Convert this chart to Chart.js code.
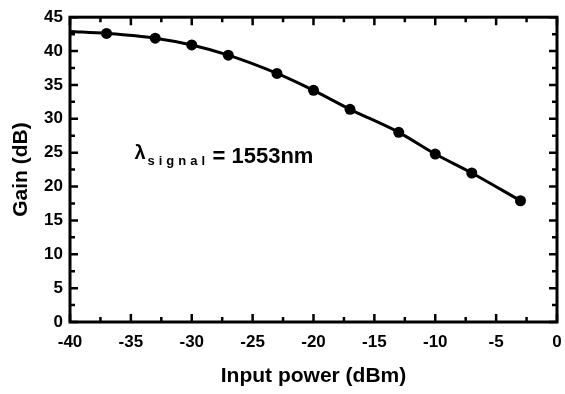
<!DOCTYPE html>
<html>
<head>
<meta charset="utf-8">
<script src="https://cdn.jsdelivr.net/npm/chart.js@4"></script>
<style>
  html, body { margin: 0; padding: 0; background: #fff; }
  #wrap { width: 565px; height: 394px; }
</style>
</head>
<body>
<div id="wrap"><canvas id="myChart" width="565" height="394"></canvas></div>
<script>
// input power (dBm) and measured gain (dB)
const inputPower = [-40, -37, -33, -30, -27, -23, -20, -17, -13, -10, -7, -3]
const gain = [42.9, 42.6, 41.9, 40.9, 39.4, 36.7, 34.2, 31.4, 28.0, 24.8, 22.0, 17.9]
// first point is only the start of the fitted curve, no marker
const markerSize = [0, 5.5, 5.5, 5.5, 5.5, 5.5, 5.5, 5.5, 5.5, 5.5, 5.5, 5.5]
const xTicks = [-40, -35, -30, -25, -20, -15, -10, -5, 0]
const yTicks = [0, 5, 10, 15, 20, 25, 30, 35, 40, 45]

const FONT = 'Liberation Sans, Arial, sans-serif'
const tickFont = { family: FONT, size: 17, weight: 'bold' }

// frame + inward tick marks on all four sides, plus the lambda note
const frameTicks = {
  id: 'frameTicks',
  afterDraw(chart) {
    const { ctx, chartArea: a, scales: { x, y } } = chart
    ctx.save()
    ctx.strokeStyle = '#000'
    ctx.lineWidth = 3
    ctx.strokeRect(a.left, a.top, a.right - a.left, a.bottom - a.top)

    ctx.lineWidth = 2.5
    for (let v = -40; v <= 0; v += 2.5) {
      const px = x.getPixelForValue(v)
      const len = v % 5 === 0 ? 8 : 5
      ctx.beginPath()
      ctx.moveTo(px, a.bottom); ctx.lineTo(px, a.bottom - len)
      ctx.moveTo(px, a.top); ctx.lineTo(px, a.top + len)
      ctx.stroke()
    }
    for (let v = 0; v <= 45; v += 2.5) {
      const py = y.getPixelForValue(v)
      const len = v % 5 === 0 ? 8 : 5
      ctx.beginPath()
      ctx.moveTo(a.left, py); ctx.lineTo(a.left + len, py)
      ctx.moveTo(a.right, py); ctx.lineTo(a.right - len, py)
      ctx.stroke()
    }

    // λ_signal = 1553nm
    const lx = x.getPixelForValue(-34.7)
    const ly = y.getPixelForValue(23.5)
    ctx.fillStyle = '#000'
    ctx.textBaseline = 'alphabetic'
    ctx.font = 'bold 20px ' + FONT
    ctx.fillText('λ', lx, ly - 4)
    ctx.font = 'bold 13px ' + FONT
    ctx.letterSpacing = '4px'
    ctx.fillText('signal', lx + 13, ly + 2)
    ctx.letterSpacing = '0px'
    ctx.font = 'bold 22px ' + FONT
    ctx.fillText('= 1553nm', lx + 78, ly)
    ctx.restore()
  }
}

new Chart(document.getElementById('myChart').getContext('2d'), {
  type: 'line',
  data: {
    labels: inputPower,
    datasets: [{
      data: inputPower.map((p, i) => ({ x: p, y: gain[i] })),
      borderColor: '#000',
      backgroundColor: '#000',
      borderWidth: 3,
      pointRadius: markerSize,
      pointBorderWidth: 0,
      fill: false,
      cubicInterpolationMode: 'monotone'
    }]
  },
  options: {
    responsive: false,
    animation: false,
    layout: { padding: { top: 15, right: 8, left: 0, bottom: 0 } },
    plugins: { legend: { display: false }, tooltip: { enabled: false } },
    scales: {
      x: {
        type: 'linear',
        min: -40, max: 0,
        afterFit: s => { s.height = 72; s.paddingLeft = 0; s.paddingRight = 0 },
        afterBuildTicks: s => { s.ticks = xTicks.map(v => ({ value: v })) },
        grid: { display: false, drawTicks: false },
        border: { display: false },
        ticks: { color: '#000', font: tickFont, padding: 10, maxRotation: 0 },
        title: {
          display: true, text: 'Input power (dBm)', color: '#000',
          font: { family: FONT, size: 21, weight: 'bold' },
          padding: { bottom: 5 }
        }
      },
      y: {
        min: 0, max: 45,
        afterFit: s => { s.width = 70 },
        afterBuildTicks: s => { s.ticks = yTicks.map(v => ({ value: v })) },
        grid: { display: false, drawTicks: false },
        border: { display: false },
        ticks: { color: '#000', font: tickFont, padding: 7 },
        title: {
          display: true, text: 'Gain (dB)', color: '#000',
          font: { family: FONT, size: 21, weight: 'bold' },
          padding: { top: 9 }
        }
      }
    }
  },
  plugins: [frameTicks]
})
</script>
</body>
</html>
